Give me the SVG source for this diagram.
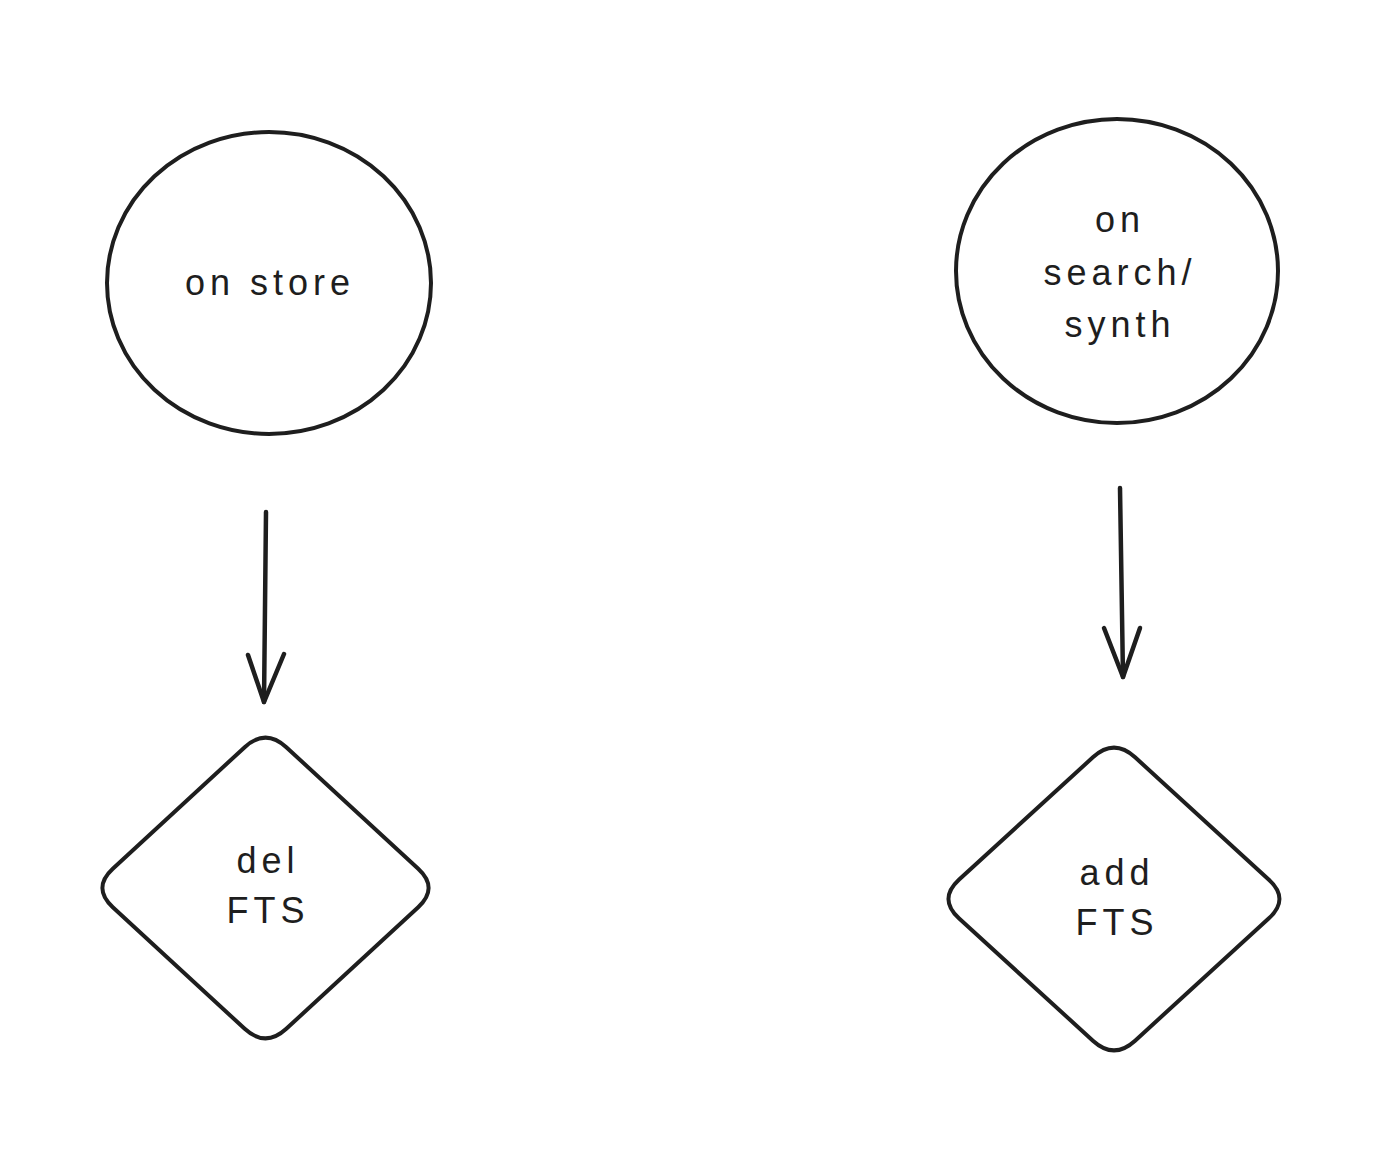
<svg xmlns="http://www.w3.org/2000/svg" width="1396" height="1150" viewBox="0 0 1396 1150">
<style>
.shape{fill:none;stroke:#1e1e1e;stroke-width:4;stroke-linejoin:round;stroke-linecap:round}
.conn{fill:none;stroke:#1e1e1e;stroke-width:4.5;stroke-linecap:round;stroke-linejoin:round}
.lbl{font-family:"Liberation Sans","Noto Sans",sans-serif;font-size:36px;fill:#1e1e1e;text-anchor:middle;letter-spacing:5px}
</style>
<rect width="1396" height="1150" fill="#ffffff"/>
<g id="node-on-store">
<ellipse class="shape" cx="269" cy="283" rx="162" ry="151"/>
<text class="lbl" x="270" y="295">on store</text>
</g>
<g id="node-on-search-synth">
<ellipse class="shape" cx="1117" cy="271" rx="161" ry="152"/>
<text class="lbl" x="1120" y="232">on</text>
<text class="lbl" x="1120" y="285">search/</text>
<text class="lbl" x="1120" y="337">synth</text>
</g>
<g id="node-del-fts">
<path class="shape" d="M244.7,747.2 Q265.5,728 286.3,747.2 L418.2,868.8 Q439,888 418.2,907.2 L286.3,1028.8 Q265.5,1048 244.7,1028.8 L112.8,907.2 Q92,888 112.8,868.8 Z"/>
<text class="lbl" x="268" y="873">del</text>
<text class="lbl" x="268" y="923">FTS</text>
</g>
<g id="node-add-fts">
<path class="shape" d="M1092.9,757.3 Q1114,738 1135.1,757.3 L1268.9,879.7 Q1290,899 1268.9,918.3 L1135.1,1040.7 Q1114,1060 1092.9,1040.7 L958.9,918.3 Q938,899 958.9,879.7 Z"/>
<text class="lbl" x="1117" y="885">add</text>
<text class="lbl" x="1117" y="935">FTS</text>
</g>
<g id="connectors">
<path class="conn" d="M266,512 L264,702"/>
<path class="conn" d="M248,655 L264,702 L284,654"/>
<path class="conn" d="M1120,488 L1123,677"/>
<path class="conn" d="M1104,628 L1123,677 L1140,628"/>
</g>
</svg>
